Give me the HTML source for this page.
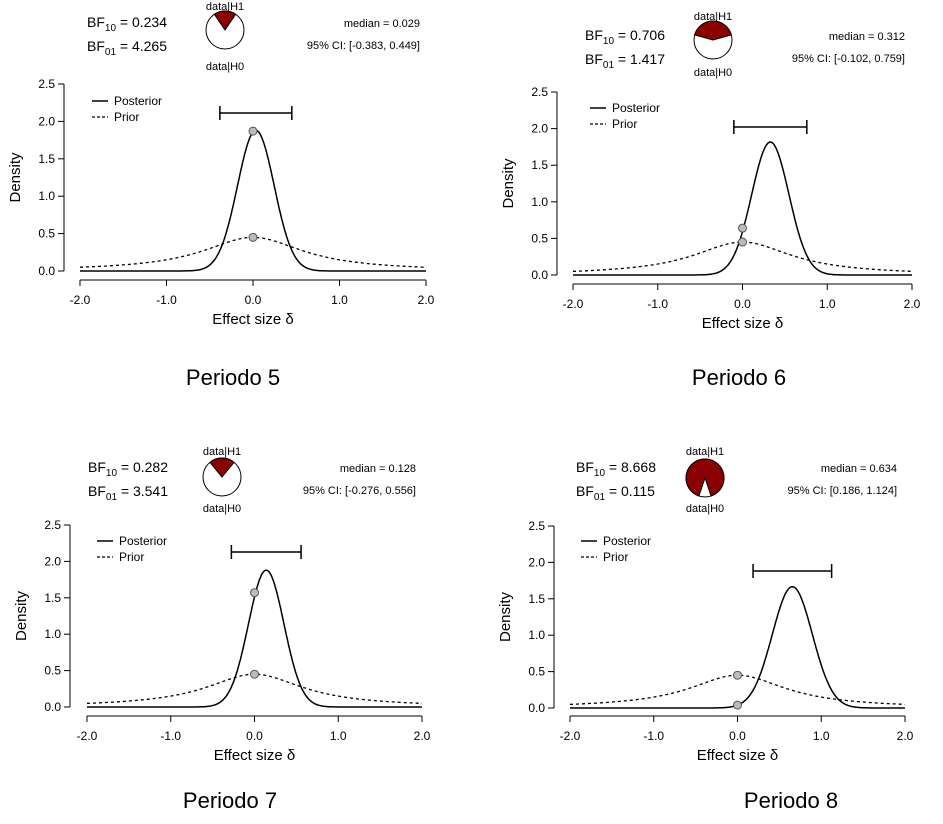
<!DOCTYPE html>
<html><head><meta charset="utf-8"><style>
body{margin:0;background:#fff;width:943px;height:824px;overflow:hidden}
svg{display:block;font-family:"Liberation Sans",Arial,sans-serif}
.cap{font-family:"Liberation Sans",Calibri,sans-serif;font-size:22px}
</style></head><body>
<svg id="chart" width="943" height="824"></svg>
<script>
const periods = ["Periodo 5","Periodo 6","Periodo 7","Periodo 8"];
const bf10 = ["0.234","0.706","0.282","8.668"];
const bf01 = ["4.265","1.417","3.541","0.115"];
const medians = [0.029,0.312,0.128,0.634];
const ciLow = [-0.383,-0.102,-0.276,0.186];
const ciHigh = [0.449,0.759,0.556,1.124];
const postAtZero = [1.87,0.64,1.57,0.04];
const priorScale = [0.707,0.707,0.707,0.707];
const xTicks = [-2,-1,0,1,2];
const xTickLabels = ["-2.0","-1.0","0.0","1.0","2.0"];
const yTicks = [0,0.5,1,1.5,2,2.5];
const yTickLabels = ["0.0","0.5","1.0","1.5","2.0","2.5"];

// layout (pixel geometry per panel)
const L = [
 {x0:80,x1:426,yb:271,yt:84,ax:64,axY:280,bfx:87,bfy:27,rx:420,pcx:225,pcy:30,pt:10,pb:70,lgx:92,lgy:101,ciy:113,capx:233,capy:385},
 {x0:573,x1:912,yb:275,yt:92,ax:557,axY:284,bfx:585,bfy:40,rx:905,pcx:713,pcy:40,pt:20,pb:76,lgx:590,lgy:108,ciy:127,capx:739,capy:385},
 {x0:87,x1:422,yb:707,yt:525,ax:70,axY:716,bfx:88,bfy:472,rx:416,pcx:222,pcy:477,pt:455,pb:512,lgx:97,lgy:541,ciy:552,capx:230,capy:808},
 {x0:570,x1:905,yb:708,yt:526,ax:554,axY:716,bfx:576,bfy:472,rx:897,pcx:705,pcy:478,pt:455,pb:512,lgx:581,lgy:541,ciy:571,capx:791,capy:808}
];
const NS="http://www.w3.org/2000/svg";
const svg=document.getElementById('chart');
function mk(tag,attrs,parent,text){const e=document.createElementNS(NS,tag);for(const k in attrs)e.setAttribute(k,attrs[k]);if(text!==undefined)e.textContent=text;(parent||svg).appendChild(e);return e;}

periods.forEach((p,i)=>{
 const g=L[i];
 const grp=mk('g',{});
 
 
 const sx=v=>g.x0+(v+2)/4*(g.x1-g.x0);
 const sy=v=>g.yb-(v/2.5)*(g.yb-g.yt);
 // axes
 const ya=mk('line',{x1:g.ax,x2:g.ax,y1:sy(0),y2:sy(2.5),stroke:'#000','stroke-width':1},grp);
 
 yTicks.forEach((t,k)=>{
  mk('line',{x1:g.ax-6,x2:g.ax,y1:sy(t),y2:sy(t),stroke:'#000'},grp);
  const tl=mk('text',{x:g.ax-9,y:sy(t)+4,'text-anchor':'end','font-size':12},grp,yTickLabels[k]);
  
 });
 const xa=mk('line',{x1:sx(-2),x2:sx(2),y1:g.axY,y2:g.axY,stroke:'#000'},grp);
 
 xTicks.forEach((t,k)=>{
  mk('line',{x1:sx(t),x2:sx(t),y1:g.axY,y2:g.axY+6,stroke:'#000'},grp);
  const tl=mk('text',{x:sx(t),y:g.axY+24,'text-anchor':'middle','font-size':12},grp,xTickLabels[k]);
  
 });
 const xt=mk('text',{x:sx(0),y:g.axY+44,'text-anchor':'middle','font-size':15},grp,'Effect size δ');
 
 const yc=(sy(0)+sy(2.5))/2;
 const yt=mk('text',{x:g.ax-44,y:yc,'text-anchor':'middle','font-size':15,transform:`rotate(-90 ${g.ax-44} ${yc})`},grp,'Density');
 
 // curves
 const sd=(ciHigh[i]-ciLow[i])/3.92, mu=(ciHigh[i]+ciLow[i])/2;
 let dp='',dq='';
 for(let k=0;k<=400;k++){const x=-2+4*k/400;
  const post=Math.exp(-0.5*((x-mu)/sd)**2)/(sd*Math.sqrt(2*Math.PI));
  const s=priorScale[i];const prior=1/(Math.PI*s*(1+(x/s)**2));
  dp+=(k?'L':'M')+sx(x).toFixed(1)+','+sy(post).toFixed(1);
  dq+=(k?'L':'M')+sx(x).toFixed(1)+','+sy(prior).toFixed(1);}
 const pr=mk('path',{d:dq,fill:'none',stroke:'#000','stroke-width':1.3,'stroke-dasharray':'3,3'},grp);
 
 const po=mk('path',{d:dp,fill:'none',stroke:'#000','stroke-width':1.5},grp);
 
 const priorZero=1/(Math.PI*priorScale[i]);
 [postAtZero[i],priorZero].forEach((v,k)=>{
  const c=mk('circle',{cx:sx(0),cy:sy(v),r:4,fill:'#bbb',stroke:'#555'},grp);
  
 });
 // CI bar
 const ci=mk('path',{d:`M${sx(ciLow[i])},${g.ciy}H${sx(ciHigh[i])}M${sx(ciLow[i])},${g.ciy-7}V${g.ciy+7}M${sx(ciHigh[i])},${g.ciy-7}V${g.ciy+7}`,stroke:'#000','stroke-width':1.5,fill:'none'},grp);
 
 // legend
 mk('line',{x1:g.lgx,x2:g.lgx+16,y1:g.lgy,y2:g.lgy,stroke:'#000','stroke-width':1.5},grp);
 const l1=mk('text',{x:g.lgx+22,y:g.lgy+4,'font-size':12},grp,'Posterior');
 
 mk('line',{x1:g.lgx,x2:g.lgx+16,y1:g.lgy+16,y2:g.lgy+16,stroke:'#000','stroke-width':1.3,'stroke-dasharray':'3,2'},grp);
 const l2=mk('text',{x:g.lgx+22,y:g.lgy+20,'font-size':12},grp,'Prior');
 
 // BF text
 const b1=mk('text',{x:g.bfx,y:g.bfy,'font-size':14},grp);
 b1.innerHTML=`BF<tspan font-size="10" dy="4">10</tspan><tspan dy="-4"> = ${bf10[i]}</tspan>`;
 
 const b2=mk('text',{x:g.bfx,y:g.bfy+24,'font-size':14},grp);
 b2.innerHTML=`BF<tspan font-size="10" dy="4">01</tspan><tspan dy="-4"> = ${bf01[i]}</tspan>`;
 
 const m=mk('text',{x:g.rx,y:g.bfy,'text-anchor':'end','font-size':11},grp,'median = '+medians[i].toFixed(3));
 
 const c2=mk('text',{x:g.rx,y:g.bfy+22,'text-anchor':'end','font-size':11},grp,`95% CI: [${ciLow[i].toFixed(3)}, ${ciHigh[i].toFixed(3)}]`);
 
 // pie
 const h1=parseFloat(bf10[i])/(1+parseFloat(bf10[i]));
 const r=19, a=h1*Math.PI;
 const big=h1>0.5?1:0;
 const px1=g.pcx-r*Math.sin(a), py=g.pcy-r*Math.cos(a), px2=g.pcx+r*Math.sin(a);
 mk('circle',{cx:g.pcx,cy:g.pcy,r:r,fill:'#fff',stroke:'#000'},grp);
 const w=mk('path',{d:`M${g.pcx},${g.pcy}L${px1},${py}A${r},${r} 0 ${big} 1 ${px2},${py}Z`,fill:'#8b0000',stroke:'#000'},grp);
 
 mk('text',{x:g.pcx,y:g.pt,'text-anchor':'middle','font-size':11},grp,'data|H1');
 mk('text',{x:g.pcx,y:g.pb,'text-anchor':'middle','font-size':11},grp,'data|H0');
 const cp=mk('text',{x:g.capx,y:g.capy,'text-anchor':'middle',class:'cap'},grp,p);
 
});
</script>
</body></html>
